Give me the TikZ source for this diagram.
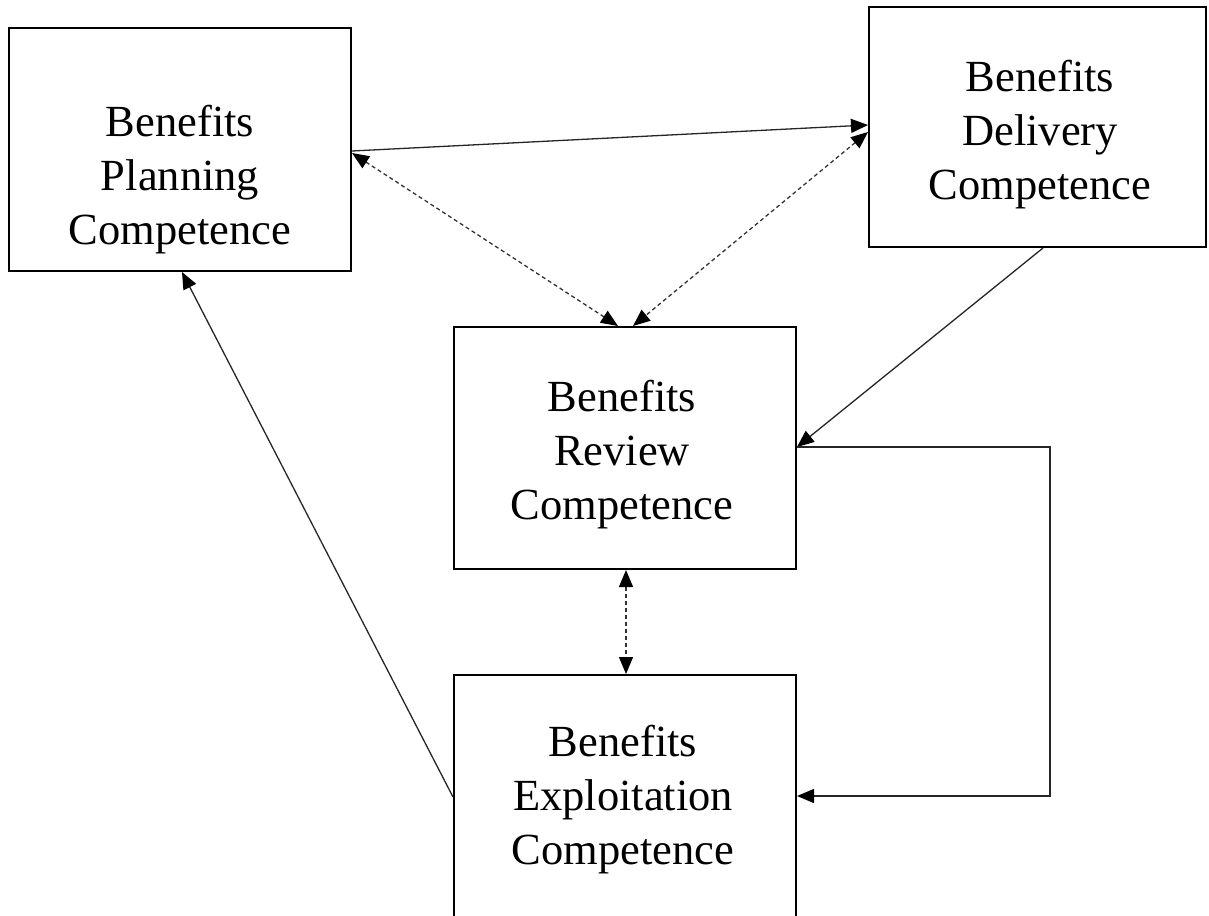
\documentclass[tikz,border=0pt]{standalone}
\usepackage{fontspec}
\setmainfont{Liberation Serif}
\usetikzlibrary{arrows.meta}

\begin{document}
\begin{tikzpicture}[x=1pt, y=-1pt,
  competence/.style={draw=black, line width=2pt, rectangle, inner sep=0pt},
  caption/.style={align=center, inner sep=0pt, anchor=north,
    font=\fontsize{44.5}{54}\selectfont},
  tip/.style={-{Triangle[length=17pt,width=14pt,color=black]}},
  bothtips/.style={{Triangle[length=17pt,width=14pt,color=black]}-{Triangle[length=17pt,width=14pt,color=black]}},
  flow/.style={line width=1.3pt, draw=black!85},
  link/.style={line width=1.3pt, draw=black!80, dash pattern=on 4pt off 3pt}]

  \useasboundingbox (0,0) rectangle (1209,915);
  \clip (0,0) rectangle (1209,915);

  % competence boxes
  \node[competence, minimum width=342pt, minimum height=243pt] (plan)  at (180,149.5)  {};
  \node[competence, minimum width=337pt, minimum height=240pt] (deliv) at (1037.5,127) {};
  \node[competence, minimum width=342pt, minimum height=242pt] (rev)   at (625,448)    {};
  \node[competence, minimum width=342pt, minimum height=280pt] (expl)  at (625,815)    {};

  % box captions
  \node[caption] (plantext)  at (180,104.5)  {Benefits\\Planning\\Competence};
  \node[caption] (delivtext) at (1040,59.5)  {Benefits\\Delivery\\Competence};
  \node[caption] (revtext)   at (622,379.5)  {Benefits\\Review\\Competence};
  \node[caption] (expltext)  at (623,724.5)  {Benefits\\Exploitation\\Competence};

  % solid flows
  \draw[flow, tip] ([yshift=-1.5pt]plan.east) -- ([yshift=2pt]deliv.west);
  \draw[flow, tip] ([xshift=5.5pt]deliv.south) -- ([yshift=1pt]rev.east);
  \draw[flow, tip] ([yshift=1pt]rev.east) -- ++(253,0) |- ([yshift=19pt]expl.east);
  \draw[flow, tip] ([yshift=18pt]expl.west) -- ([xshift=2pt]plan.south);

  % dashed two-way links
  \draw[link, bothtips] ([yshift=-3.5pt]plan.east) -- ([xshift=-7pt]rev.north);
  \draw[link, bothtips] ([yshift=-5pt]deliv.west) -- ([xshift=8pt]rev.north);
  \draw[link, bothtips] ([xshift=1pt]rev.south) -- ([xshift=1pt]expl.north);
\end{tikzpicture}
\end{document}
